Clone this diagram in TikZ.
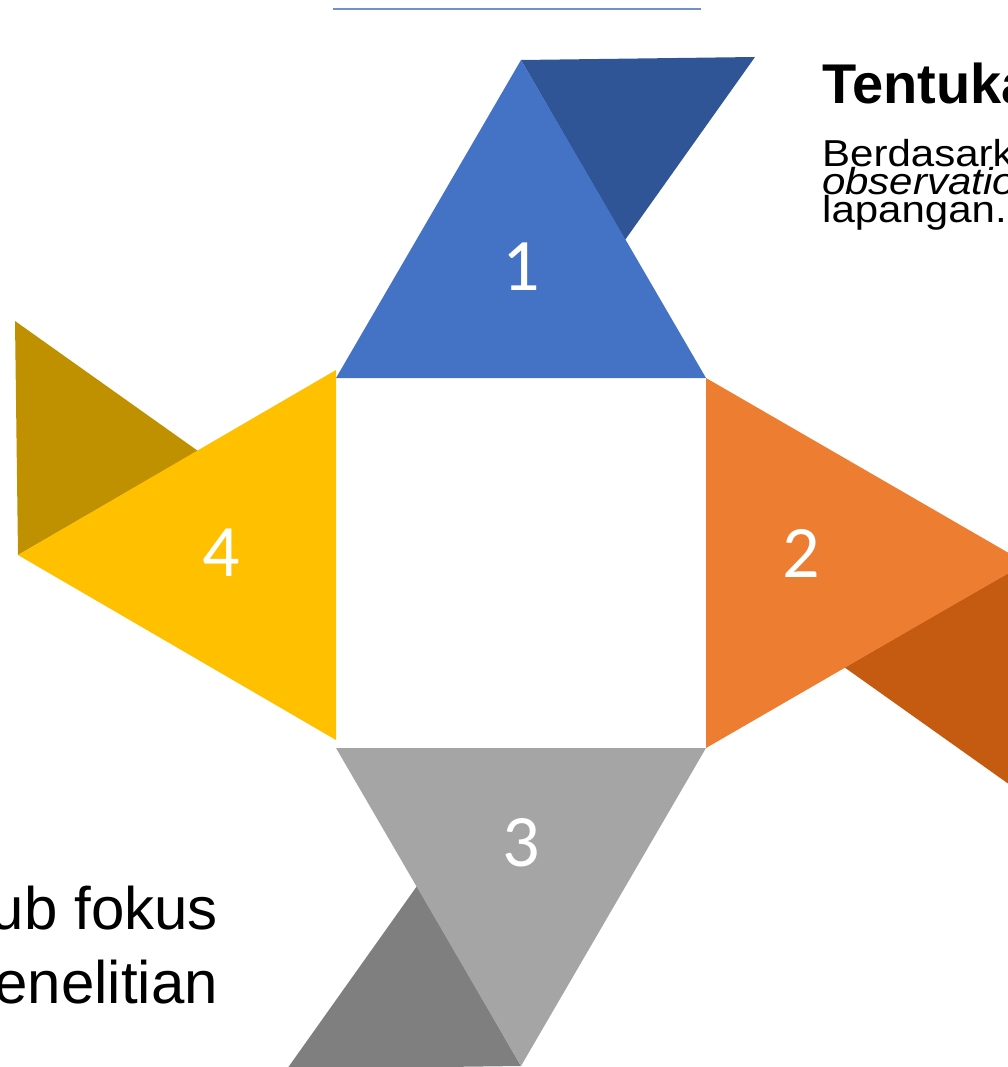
\documentclass[tikz,border=0pt]{standalone}
\usepackage{fontspec}
\setmainfont{Liberation Sans}
\newfontfamily\numfont{Carlito}
\newfontfamily\widefont[FakeStretch=1.12]{Liberation Sans}
\definecolor{cBlue}{HTML}{4472C4}
\definecolor{cBlueD}{HTML}{2F5597}
\definecolor{cOrange}{HTML}{ED7D31}
\definecolor{cOrangeD}{HTML}{C55A11}
\definecolor{cGray}{HTML}{A5A5A5}
\definecolor{cGrayD}{HTML}{7F7F7F}
\definecolor{cGold}{HTML}{FFC000}
\definecolor{cGoldD}{HTML}{BF9000}
\definecolor{cLine}{HTML}{7090D0}
\tikzset{
  numlabel/.style={text=white, inner sep=0pt, font=\numfont\fontsize{74}{80}\selectfont},
  titletext/.style={anchor=base west, inner sep=0pt, font=\bfseries\fontsize{56}{60}\selectfont},
  bodytext/.style={anchor=base west, inner sep=0pt, font=\widefont\fontsize{37.5}{38}\selectfont},
  bigtext/.style={anchor=base east, inner sep=0pt, font=\fontsize{60}{66}\selectfont}
}
\begin{document}
\begin{tikzpicture}[x=1pt,y=-1pt]
\useasboundingbox (0,0) rectangle (1008,1067);
\clip (0,0) rectangle (1008,1067);
% top line
\coordinate (l1) at (333,9);
\coordinate (l2) at (701,9);
\draw[cLine, line width=1.6pt] (l1) -- (l2);
% vertices
\coordinate (A1) at (521,60);  \coordinate (B1) at (336,378); \coordinate (C1) at (706,378);
\coordinate (D1) at (755,57);  \coordinate (E1) at (625,240);
\coordinate (A2) at (1026,563); \coordinate (B2) at (706,378); \coordinate (C2) at (706,748);
\coordinate (D2) at (1027,797); \coordinate (E2) at (844,667);
\coordinate (A3) at (521,1066); \coordinate (B3) at (336,748); \coordinate (C3) at (706,748);
\coordinate (D3) at (287,1069); \coordinate (E3) at (417,886);
\coordinate (A4) at (18,555); \coordinate (B4) at (336,370); \coordinate (C4) at (336,740);
\coordinate (D4) at (15,321); \coordinate (E4) at (198,451);
% dark triangles
\fill[cBlueD] (A1) -- (D1) -- (E1) -- cycle;
\fill[cOrangeD] (A2) -- (D2) -- (E2) -- cycle;
\fill[cGrayD] (A3) -- (D3) -- (E3) -- cycle;
\fill[cGoldD] (A4) -- (D4) -- (E4) -- cycle;
% main triangles
\fill[cBlue] (A1) -- (B1) -- (C1) -- cycle;
\fill[cOrange] (A2) -- (B2) -- (C2) -- cycle;
\fill[cGray] (A3) -- (B3) -- (C3) -- cycle;
\fill[cGold] (A4) -- (B4) -- (C4) -- cycle;
% numbers
\node[numlabel] (n1) at (521,267) {1};
\node[numlabel] (n2) at (801,553) {2};
\node[numlabel] (n3) at (521,843) {3};
\node[numlabel] (n4) at (221,553) {4};
% texts
\node[titletext] (title) at (822,104) {Tentukan};
\node[bodytext] (b1) at (822,167) {Berdasarkan};
\node[bodytext] (b2) at (822,195) {\itshape observation};
\node[bodytext] (b3) at (822,223) {lapangan.};
\node[bigtext] (s1) at (218,929) {Sub fokus};
\node[bigtext] (s2) at (218,1003) {penelitian};
\end{tikzpicture}
\end{document}
